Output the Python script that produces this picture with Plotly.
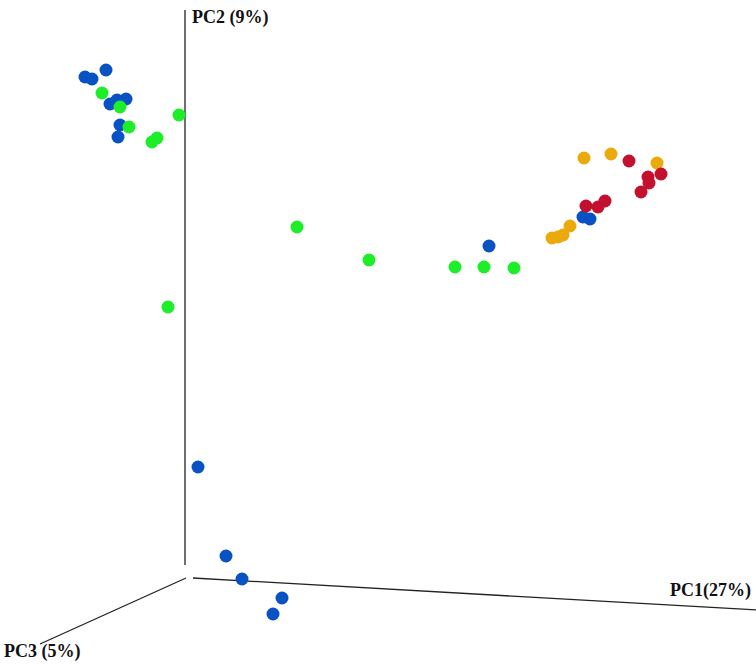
import plotly.graph_objects as go

# projected PCoA coordinates (screen units of the original figure)
blue_x = [85, 92, 106, 110, 117, 126, 120, 118, 489, 583, 590, 198, 226, 242, 282, 273]
blue_y = [77, 79, 70, 104, 100, 99, 125, 137, 246, 217, 219, 467, 556, 579, 598, 614]

green_x = [102, 120, 129, 152, 157, 179, 168, 297, 369, 455, 484, 514]
green_y = [93, 107, 127, 142, 138, 115, 307, 227, 260, 267, 267, 268]

yellow_x = [584, 611, 657, 570, 563, 558, 552]
yellow_y = [158, 154, 163, 226, 235, 237, 238]

red_x = [629, 648, 661, 649, 641, 586, 598, 605]
red_y = [161, 177, 174, 183, 192, 206, 207, 201]

# axis frame of the 3D view
pc2_x = [185, 185]
pc2_y = [10, 565]
pc1_x = [193, 775]
pc1_y = [578, 611]
pc3_x = [186, 40]
pc3_y = [578, 644]

fig = go.Figure()

for ax_x, ax_y in [(pc2_x, pc2_y), (pc1_x, pc1_y), (pc3_x, pc3_y)]:
    fig.add_trace(go.Scatter(
        x=ax_x, y=ax_y, mode='lines',
        line=dict(color='#222222', width=1.3),
        showlegend=False, hoverinfo='skip'
    ))

groups = [
    (blue_x, blue_y, '#0852C4'),
    (green_x, green_y, '#1EEE2A'),
    (yellow_x, yellow_y, '#EBAA0C'),
    (red_x, red_y, '#C3102F'),
]
for gx, gy, col in groups:
    fig.add_trace(go.Scatter(
        x=gx, y=gy, mode='markers',
        marker=dict(color=col, size=13, line=dict(width=0)),
        showlegend=False
    ))

label_font = dict(family='Liberation Serif', size=18, color='#111111')
fig.add_annotation(x=190, y=17, text='<b>PC2 (9%)</b>', showarrow=False,
                   xanchor='left', yanchor='middle', font=label_font)
fig.add_annotation(x=753, y=590, text='<b>PC1(27%)</b>', showarrow=False,
                   xanchor='right', yanchor='middle', font=label_font)
fig.add_annotation(x=2, y=651, text='<b>PC3 (5%)</b>', showarrow=False,
                   xanchor='left', yanchor='middle', font=label_font)

fig.update_layout(
    width=756, height=664,
    margin=dict(l=0, r=0, t=0, b=0),
    plot_bgcolor='white', paper_bgcolor='white',
    xaxis=dict(range=[0, 756], visible=False, fixedrange=True),
    yaxis=dict(range=[664, 0], visible=False, fixedrange=True),
)

# drop the page's default body margin so the figure fills the window
fig.write_html("out.html",
               config={'displayModeBar': False},
               post_script="document.body.style.margin='0';"
                           "document.body.style.overflow='hidden';")
